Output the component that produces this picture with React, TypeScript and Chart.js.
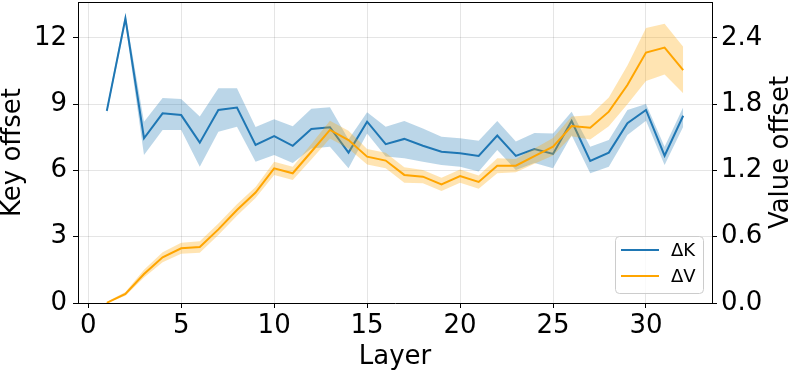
import React, { useEffect, useRef } from "react";
import { Chart, registerables } from "chart.js";

Chart.register(...registerables);

// ---- data ----
const layers = [1, 2, 3, 4, 5, 6, 7, 8, 9, 10, 11, 12, 13, 14, 15, 16, 17, 18, 19, 20, 21, 22, 23, 24, 25, 26, 27, 28, 29, 30, 31, 32];

const keyMean = [8.70, 12.89, 7.46, 8.59, 8.51, 7.26, 8.74, 8.85, 7.16, 7.56, 7.12, 7.88, 7.96, 6.81, 8.21, 7.19, 7.43, 7.12, 6.85, 6.78, 6.66, 7.58, 6.66, 6.97, 6.75, 8.24, 6.43, 6.81, 8.14, 8.74, 6.67, 8.48];
const keyUpper = [8.85, 13.10, 8.21, 9.28, 9.24, 8.44, 9.73, 9.73, 7.97, 8.32, 8.00, 8.80, 8.86, 7.40, 8.64, 7.98, 8.24, 7.90, 7.53, 7.46, 7.35, 8.24, 7.31, 7.70, 7.68, 8.66, 7.08, 7.38, 8.74, 9.01, 7.08, 8.86];
const keyLower = [8.55, 12.65, 6.70, 7.83, 7.83, 6.17, 7.76, 7.98, 6.40, 6.70, 6.34, 7.00, 7.08, 6.10, 7.68, 6.63, 6.55, 6.40, 6.25, 6.17, 5.95, 6.93, 6.02, 6.34, 6.10, 7.60, 5.87, 6.17, 7.61, 8.25, 6.25, 7.98];

const valueMean = [0.002, 0.082, 0.263, 0.414, 0.495, 0.507, 0.667, 0.842, 1.0, 1.22, 1.175, 1.37, 1.567, 1.476, 1.325, 1.29, 1.16, 1.144, 1.075, 1.15, 1.096, 1.244, 1.244, 1.33, 1.416, 1.603, 1.588, 1.733, 1.974, 2.268, 2.313, 2.11];
const valueUpper = [0.012, 0.10, 0.30, 0.46, 0.545, 0.56, 0.72, 0.895, 1.05, 1.28, 1.235, 1.44, 1.65, 1.56, 1.395, 1.36, 1.23, 1.205, 1.135, 1.21, 1.155, 1.31, 1.305, 1.40, 1.495, 1.69, 1.70, 1.86, 2.15, 2.49, 2.53, 2.32];
const valueLower = [0.0, 0.065, 0.23, 0.37, 0.445, 0.455, 0.615, 0.79, 0.95, 1.16, 1.115, 1.30, 1.49, 1.40, 1.255, 1.22, 1.09, 1.085, 1.015, 1.09, 1.035, 1.175, 1.185, 1.26, 1.335, 1.51, 1.48, 1.60, 1.80, 2.01, 2.07, 1.90];

const xTicks = [0, 5, 10, 15, 20, 25, 30];
const keyTicks = [0, 3, 6, 9, 12];
const valueTicks = [0, 0.6, 1.2, 1.8, 2.4];

const seriesLabels = ["\u0394K", "\u0394V"];
const xTitle = "Layer";
const keyTitle = "Key offset";
const valueTitle = "Value offset";

// ---- styles ----
const FONT = "'DejaVu Sans', sans-serif";
const BLUE = "#1f77b4";
const BLUE_BAND = "rgba(31,119,180,0.3)";
const ORANGE = "#ffa500";
const ORANGE_BAND = "rgba(255,165,0,0.3)";
const GRID = "rgba(0,0,0,0.1)";

export default function App() {
  const ref = useRef<HTMLCanvasElement>(null);

  useEffect(() => {
    document.body.style.margin = "0";
    const canvas = ref.current;
    if (!canvas) return;
    const pts = (arr: number[]) => layers.map((x, i) => ({ x, y: arr[i] }));

    const line = (label: string, data: number[], axis: string, color: string, order: number) => ({
      label,
      data: pts(data),
      yAxisID: axis,
      borderColor: color,
      backgroundColor: color,
      borderWidth: 2,
      pointRadius: 0,
      fill: false,
      order,
    });
    const bound = (data: number[], axis: string, fill: any, bg: string, order: number) => ({
      label: "_band",
      data: pts(data),
      yAxisID: axis,
      borderWidth: 0,
      borderColor: "rgba(0,0,0,0)",
      backgroundColor: bg,
      pointRadius: 0,
      fill,
      order,
    });

    const extras = {
      id: "extras",
      afterDraw(chart: any) {
        const { ctx, chartArea } = chart;
        ctx.save();
        // top spine
        ctx.strokeStyle = "#000";
        ctx.lineWidth = 1;
        ctx.beginPath();
        ctx.moveTo(chartArea.left, chartArea.top + 0.5);
        ctx.lineTo(chartArea.right, chartArea.top + 0.5);
        ctx.stroke();

        // right axis title (reads bottom to top)
        ctx.fillStyle = "#000";
        ctx.font = `26px ${FONT}`;
        ctx.textAlign = "center";
        ctx.textBaseline = "middle";
        ctx.translate(chart.width - 13, (chartArea.top + chartArea.bottom) / 2);
        ctx.rotate(-Math.PI / 2);
        ctx.fillText(valueTitle, 0, 0);
        ctx.restore();

        // legend
        ctx.save();
        const w = 88, h = 57;
        const bx = chartArea.right - 9 - w;
        const by = chartArea.bottom - 10 - h;
        ctx.beginPath();
        (ctx as any).roundRect(bx + 0.5, by + 0.5, w, h, 4);
        ctx.fillStyle = "rgba(255,255,255,0.8)";
        ctx.fill();
        ctx.strokeStyle = "#cccccc";
        ctx.lineWidth = 1;
        ctx.stroke();
        const colors = [BLUE, ORANGE];
        seriesLabels.forEach((lab, i) => {
          const y = by + 14 + i * 26;
          ctx.strokeStyle = colors[i];
          ctx.lineWidth = 2;
          ctx.beginPath();
          ctx.moveTo(bx + 6, y);
          ctx.lineTo(bx + 44, y);
          ctx.stroke();
          ctx.fillStyle = "#000";
          ctx.font = `18px ${FONT}`;
          ctx.textAlign = "left";
          ctx.textBaseline = "middle";
          ctx.fillText(lab, bx + 56, y + 1);
        });
        ctx.restore();
      },
    };

    const tickFont = { family: FONT, size: 26 };
    const setTicks = (vals: number[]) => (s: any) => {
      s.ticks = vals.map((v) => ({ value: v }));
    };
    const noPad = (s: any) => {
      s.paddingTop = 0;
      s.paddingBottom = 0;
      s.paddingLeft = 0;
      s.paddingRight = 0;
    };

    const chart = new Chart(canvas, {
      type: "line",
      data: {
        datasets: [
          bound(keyUpper, "yKey", false, BLUE_BAND, 6),
          bound(keyLower, "yKey", 0, BLUE_BAND, 5),
          line(seriesLabels[0], keyMean, "yKey", BLUE, 4),
          bound(valueUpper, "yVal", false, ORANGE_BAND, 3),
          bound(valueLower, "yVal", 3, ORANGE_BAND, 2),
          line(seriesLabels[1], valueMean, "yVal", ORANGE, 1),
        ] as any,
      },
      options: {
        responsive: false,
        animation: false,
        layout: { padding: { top: 2, left: 0, right: 0, bottom: 0 } },
        plugins: {
          legend: { display: false },
          tooltip: { enabled: false },
        },
        scales: {
          x: {
            type: "linear",
            min: -0.55,
            max: 33.55,
            afterBuildTicks: setTicks(xTicks),
            afterFit: (s: any) => {
              noPad(s);
              s.height = 70;
            },
            ticks: {
              font: tickFont,
              color: "#000",
              padding: 3,
              maxRotation: 0,
              autoSkip: false,
              callback: (v: any) => String(v),
            },
            grid: { color: GRID, lineWidth: 1, tickLength: 5, tickColor: "#000", tickWidth: 1 },
            border: { color: "#000", width: 1 },
            title: {
              display: true,
              text: xTitle,
              color: "#000",
              font: { family: FONT, size: 26, lineHeight: 1 },
              padding: { top: 0, bottom: 3 },
            },
          },
          yKey: {
            type: "linear",
            position: "left",
            min: 0,
            max: 13.63,
            afterBuildTicks: setTicks(keyTicks),
            afterFit: (s: any) => {
              noPad(s);
              s.width = 78;
            },
            ticks: {
              font: tickFont,
              color: "#000",
              padding: 6,
              autoSkip: false,
              callback: (v: any) => String(v),
            },
            grid: { color: GRID, lineWidth: 1, tickLength: 5, tickColor: "#000", tickWidth: 1 },
            border: { color: "#000", width: 1 },
            title: {
              display: true,
              text: keyTitle,
              color: "#000",
              font: { family: FONT, size: 26, lineHeight: 1 },
              padding: { top: 0, bottom: 0 },
            },
          },
          yVal: {
            type: "linear",
            position: "right",
            min: 0,
            max: 2.726,
            afterBuildTicks: setTicks(valueTicks),
            afterFit: (s: any) => {
              noPad(s);
              s.width = 82;
            },
            ticks: {
              font: tickFont,
              color: "#000",
              padding: 4,
              autoSkip: false,
              callback: (v: any) => Number(v).toFixed(1),
            },
            grid: { drawOnChartArea: false, tickLength: 5, tickColor: "#000", tickWidth: 1 },
            border: { color: "#000", width: 1 },
          },
        },
      } as any,
      plugins: [extras],
    });

    return () => chart.destroy();
  }, []);

  return (
    <div style={{ width: 794, height: 373 }}>
      <canvas ref={ref} width={794} height={373} />
    </div>
  );
}
